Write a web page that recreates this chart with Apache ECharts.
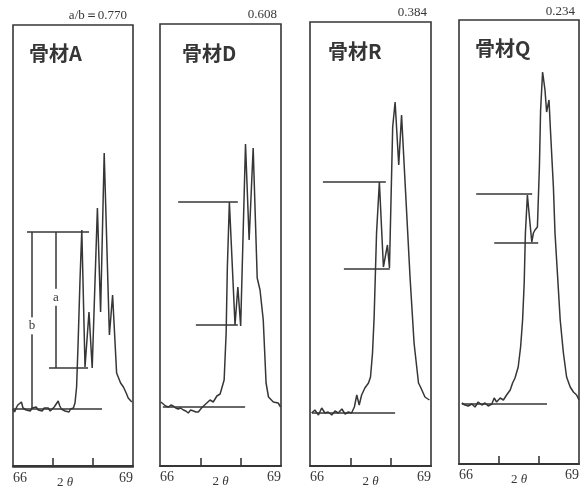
<!DOCTYPE html>
<html>
<head>
<meta charset="utf-8">
<script src="https://cdn.jsdelivr.net/npm/echarts@6/dist/echarts.min.js"></script>
<style>
html,body{margin:0;padding:0;background:#fff;}
#main{width:584px;height:490px;}
</style>
</head>
<body>
<div id="main"></div>
<script>
// 骨材ごとのX線回折パターン (2θ 66～69°)
const names  = ['骨材A', '骨材D', '骨材R', '骨材Q'];
const ratios = ['a/b＝0.770', '0.608', '0.384', '0.234'];
const tickVals  = [67, 68];
const labelVals = [66, 69];

// 骨材A
const thetaA = [66.00,66.04,66.08,66.12,66.16,66.21,66.25,66.29,66.33,66.38,66.43,66.48,66.53,66.58,66.63,66.68,66.73,66.78,66.83,66.88,66.93,66.98,67.03,67.08,67.13,67.17,67.21,67.25,67.30,67.35,67.40,67.44,67.48,67.51,67.55,67.59,67.63,67.675,67.72,67.80,67.90,67.98,68.11,68.19,68.28,68.41,68.49,68.59,68.63,68.69,68.76,68.83,68.88,68.97];
const countA = [57,54,58,61,60,64,58,59,56,58,55,58,57,59,56,57,55,58,56,58,55,57,59,61,65,60,57,58,55,57,54,57,55,58,63,79,126,186,236,99,154,98,258,154,313,131,171,93,89,83,79,73,68,64];
// 骨材D
const thetaD = [66.02,66.08,66.14,66.21,66.27,66.33,66.39,66.45,66.51,66.58,66.64,66.70,66.76,66.83,66.89,66.95,67.03,67.08,67.12,67.16,67.20,67.24,67.28,67.32,67.36,67.41,67.45,67.49,67.53,67.59,67.64,67.67,67.72,67.86,67.93,68.00,68.12,68.21,68.31,68.41,68.48,68.56,68.63,68.69,68.81,68.93,68.99];
const countD = [64,62,60,59,61,60,58,57,58,56,55,53,56,55,54,54,58,60,61,63,64,66,68,64,66,70,69,72,71,86,133,199,264,141,179,140,322,226,318,188,176,146,83,69,64,63,59];
// 骨材R
const thetaR = [66.04,66.12,66.21,66.29,66.37,66.45,66.54,66.62,66.70,66.79,66.87,66.95,67.03,67.10,67.16,67.22,67.28,67.36,67.45,67.50,67.55,67.59,67.65,67.72,67.82,67.92,67.97,68.05,68.11,68.20,68.27,68.38,68.48,68.58,68.69,68.74,68.85,68.96];
const countR = [53,56,51,58,53,54,51,55,53,57,52,54,53,59,71,61,71,78,83,89,113,149,233,284,199,221,198,339,364,301,351,266,189,123,83,79,69,66];
// 骨材Q
const thetaQ = [66.07,66.15,66.23,66.32,66.40,66.48,66.57,66.65,66.73,66.82,66.88,66.94,67.03,67.11,67.19,67.28,67.34,67.40,67.48,67.54,67.59,67.63,67.66,67.71,67.76,67.82,67.86,67.90,67.96,68.01,68.04,68.09,68.15,68.19,68.25,68.29,68.36,68.40,68.46,68.53,68.61,68.69,68.78,68.86,68.94,69.00];
const countQ = [63,61,60,62,59,64,61,63,60,62,68,64,68,66,71,76,83,88,99,119,146,183,233,271,249,224,233,236,239,299,356,394,376,354,366,333,279,233,193,146,113,89,79,74,71,66];

// 作図用の補助線: [ピーク高さ, 谷の高さ, バックグラウンド]
const levelsA = [234, 98, 57];
const levelsD = [264, 141, 59];
const levelsR = [284, 197, 53];
const levelsQ = [272, 223, 62];
// 補助線の2θ範囲: [ピーク線, 谷線, バックグラウンド線]
const spansA = [[66.35, 67.90], [66.90, 67.875], [66.00, 68.225]];
const spansD = [[66.45, 67.93], [66.89, 67.93], [66.07, 68.11]];
const spansR = [[66.32, 67.88], [66.84, 67.98], [66.05, 68.11]];
const spansQ = [[66.43, 67.83], [66.88, 67.98], [66.07, 68.20]];
// 骨材Aだけ a, b の縦線
const barX = {b: 66.475, a: 67.075};

const thetas = [thetaA, thetaD, thetaR, thetaQ];
const counts = [countA, countD, countR, countQ];
const levels = [levelsA, levelsD, levelsR, levelsQ];
const spans  = [spansA, spansD, spansR, spansQ];

// レイアウト(スキャン画像に合わせて少しずつずれている)
const boxes = [
	{left: 13,  width: 120, top: 25, bottom: 467},
	{left: 160, width: 121, top: 24, bottom: 466},
	{left: 310, width: 121, top: 22, bottom: 466},
	{left: 459, width: 120, top: 20, bottom: 464}
];
// title は padding 5 の分を引いておく
const titlePos = [[24, 38], [177, 38], [323, 36], [470, 33]];
const ratioPos = [[452, 4], [302, 3], [152, 1], [4, 0]];

const ink = '#363636';
const serif = '"Liberation Serif", "DejaVu Serif", serif';

var myChart = echarts.init(document.getElementById('main'));

var grid = [], xAxis = [], yAxis = [], series = [], title = [];

boxes.forEach(function (b, i) {
	grid.push({
		left: b.left, width: b.width, top: b.top, height: b.bottom - b.top,
		outerBoundsMode: 'none', containLabel: false,
		show: true, borderColor: ink, borderWidth: 1.6, backgroundColor: 'transparent'
	});
	xAxis.push({
		type: 'value', gridIndex: i, min: 66, max: 69,
		axisLine: {show: true, lineStyle: {color: ink, width: 2}},
		axisTick: {show: true, inside: true, length: 8, customValues: tickVals, lineStyle: {color: ink, width: 1.6}},
		axisLabel: {
			show: true, customValues: labelVals, margin: 4,
			color: ink, fontFamily: serif, fontSize: 14,
			alignMinLabel: 'left', alignMaxLabel: 'right'
		},
		splitLine: {show: false},
		name: '{n|2} {t|θ}', nameLocation: 'middle', nameGap: 9,
		nameMoveOverlap: false,
		nameTextStyle: {
			color: ink, fontFamily: serif, fontSize: 13,
			padding: i === 0 ? [0, 16, 0, 0] : 0,
			rich: {n: {fontFamily: serif, fontSize: 13, color: ink}, t: {fontFamily: serif, fontStyle: 'italic', fontSize: 13, color: ink}}
		}
	});
	// 高さは画像のピクセル相当の任意単位
	yAxis.push({
		type: 'value', gridIndex: i, min: 466 - b.bottom, max: 466 - b.top,
		show: false, splitLine: {show: false}
	});

	var lv = levels[i], sp = spans[i];
	var segs = [
		[{coord: [sp[0][0], lv[0]]}, {coord: [sp[0][1], lv[0]]}],
		[{coord: [sp[1][0], lv[1]]}, {coord: [sp[1][1], lv[1]]}],
		[{coord: [sp[2][0], lv[2]]}, {coord: [sp[2][1], lv[2]]}]
	];
	var pts = [];
	if (i === 0) {
		segs.push([{coord: [barX.b, lv[0]]}, {coord: [barX.b, lv[2]]}]);
		segs.push([{coord: [barX.a, lv[0]]}, {coord: [barX.a, lv[1]]}]);
		pts.push({coord: [barX.b, lv[2] + (lv[0] - lv[2]) * 0.47], value: 'b'});
		pts.push({coord: [barX.a, lv[1] + (lv[0] - lv[1]) * 0.52], value: 'a'});
	}

	series.push({
		type: 'line', xAxisIndex: i, yAxisIndex: i,
		data: thetas[i].map(function (t, k) { return [t, counts[i][k]]; }),
		showSymbol: false, symbol: 'none', animation: false,
		lineStyle: {color: ink, width: 1.5},
		markLine: {
			silent: true, symbol: 'none', animation: false,
			label: {show: false},
			lineStyle: {color: ink, width: 1.5, type: 'solid'},
			emphasis: {disabled: true},
			data: segs
		},
		markPoint: {
			silent: true, symbol: 'rect', symbolSize: 0, animation: false,
			label: {
				show: true, position: 'inside', formatter: '{c}',
				color: ink, fontFamily: serif, fontSize: 13,
				backgroundColor: '#fff', padding: [2, 1]
			},
			data: pts
		}
	});

	title.push({
		text: names[i], left: titlePos[i][0], top: titlePos[i][1],
		textStyle: {fontFamily: '"Noto Sans CJK JP", sans-serif', fontWeight: 'bold', fontSize: 20, color: ink}
	});
	title.push({
		text: ratios[i], right: ratioPos[i][0], top: ratioPos[i][1],
		textStyle: {fontFamily: serif, fontWeight: 'normal', fontSize: 13, color: ink}
	});
});

var option = {
	backgroundColor: '#ffffff',
	animation: false,
	title: title,
	grid: grid,
	xAxis: xAxis,
	yAxis: yAxis,
	series: series
};

myChart.setOption(option);
</script>
</body>
</html>
